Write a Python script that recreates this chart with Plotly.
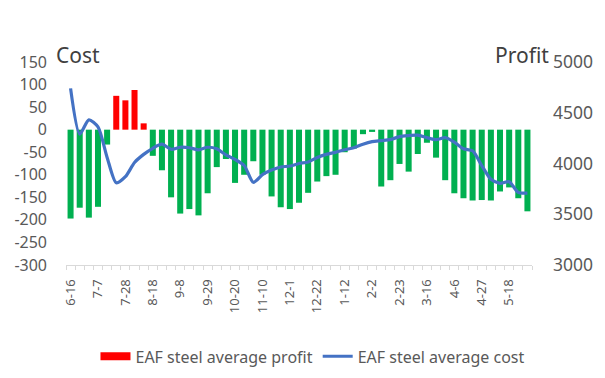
import plotly.graph_objects as go

weeks = ["6-16", "6-23", "6-30", "7-7", "7-14", "7-21", "7-28", "8-4", "8-11", "8-18",
         "8-25", "9-1", "9-8", "9-15", "9-22", "9-29", "10-6", "10-13", "10-20", "10-27",
         "11-3", "11-10", "11-17", "11-24", "12-1", "12-8", "12-15", "12-22", "12-29", "1-5",
         "1-12", "1-19", "1-26", "2-2", "2-9", "2-16", "2-23", "3-2", "3-9", "3-16",
         "3-23", "3-30", "4-6", "4-13", "4-20", "4-27", "5-4", "5-11", "5-18", "5-25", "6-1"]

profit = [-197, -173, -195, -171, -33, 75, 65, 88, 14, -58,
          -90, -150, -186, -176, -190, -141, -83, -65, -118, -100,
          -70, -100, -148, -172, -176, -162, -140, -115, -103, -100,
          -50, -42, -10, -5, -126, -112, -76, -93, -54, -29,
          -62, -112, -141, -152, -157, -156, -157, -137, -128, -152, -181]

cost = [4740, 4290, 4430, 4360, 4060, 3810, 3870, 4010, 4090, 4150,
        4190, 4140, 4160, 4155, 4135, 4160, 4145, 4085, 4040, 3980,
        3815, 3890, 3935, 3965, 3975, 4000, 4015, 4060, 4090, 4110,
        4135, 4155, 4190, 4215, 4225, 4235, 4265, 4275, 4280, 4255,
        4235, 4255, 4210, 4145, 4125, 3980, 3845, 3805, 3820, 3715, 3708]

tick_labels = weeks[::3]
left_ticks = [-300, -250, -200, -150, -100, -50, 0, 50, 100, 150]
right_ticks = [3000, 3500, 4000, 4500, 5000]

idx = list(range(len(weeks)))
pos = [v if v > 0 else None for v in profit]
neg = [v if v <= 0 else None for v in profit]

font_family = "Noto Sans"
grey = "#595959"

fig = go.Figure()
fig.add_bar(x=idx, y=pos, marker_color="#FF0000", marker_line_width=0, width=0.66,
            name="EAF steel average profit", legendgroup="profit", showlegend=False,
            text=weeks, hoverinfo="text+y", textposition="none")
fig.add_bar(x=idx, y=neg, marker_color="#00B050", marker_line_width=0, width=0.66,
            name="EAF steel average profit", legendgroup="profit", showlegend=False,
            text=weeks, hoverinfo="text+y", textposition="none")
# legend swatch for the profit bars (wide red block as in the original legend)
fig.add_scatter(x=[None], y=[None], mode="lines", name="EAF steel average profit",
                legendgroup="profit", line=dict(color="#FF0000", width=8))
fig.add_scatter(x=idx, y=cost, yaxis="y2", mode="lines", name="EAF steel average cost",
                line=dict(color="#4472C4", width=3.2, shape="spline", smoothing=0.7),
                text=weeks, hoverinfo="text+y")

fig.update_layout(
    width=605, height=378,
    margin=dict(l=58, r=81, t=54, b=115),
    paper_bgcolor="white", plot_bgcolor="white",
    barmode="overlay",
    font=dict(family=font_family, color=grey, size=13),
    xaxis=dict(
        range=[-0.5, len(weeks) - 0.5], automargin=False,
        tickmode="array", tickvals=idx[::3], ticktext=tick_labels,
        tickangle=-90, tickfont=dict(size=13, color=grey),
        showline=True, linecolor="#D9D9D9", linewidth=1,
        ticks="", showgrid=False, zeroline=False,
        minor=dict(ticks="outside", tick0=-0.5, dtick=1, ticklen=4, tickcolor="#D9D9D9"),
        ticklabelstandoff=8,
    ),
    yaxis=dict(
        range=[-300, 150], automargin=False, tickmode="array", tickvals=left_ticks,
        ticktext=[str(v) for v in left_ticks],
        showgrid=False, zeroline=False, showline=False,
        tickfont=dict(size=16, color=grey), ticklabelstandoff=18,
    ),
    yaxis2=dict(
        overlaying="y", side="right", automargin=False,
        range=[3000, 5000], tickmode="array", tickvals=right_ticks,
        ticktext=[str(v) for v in right_ticks],
        showgrid=False, zeroline=False, showline=False,
        tickfont=dict(size=17.5, color=grey), ticklabelstandoff=20,
    ),
    legend=dict(
        orientation="h", x=0.53, xanchor="center", y=-0.45, yanchor="middle",
        font=dict(size=16, color=grey), traceorder="normal", itemwidth=30,
    ),
    showlegend=True,
    annotations=[
        dict(text="Cost", xref="paper", yref="paper", x=-0.025, y=1.035,
             xanchor="left", yanchor="middle", showarrow=False,
             font=dict(size=21, color="#404040")),
        dict(text="Profit", xref="paper", yref="paper", x=1.04, y=1.035,
             xanchor="right", yanchor="middle", showarrow=False,
             font=dict(size=21, color="#404040")),
    ],
)

fig.write_html("out.html")
